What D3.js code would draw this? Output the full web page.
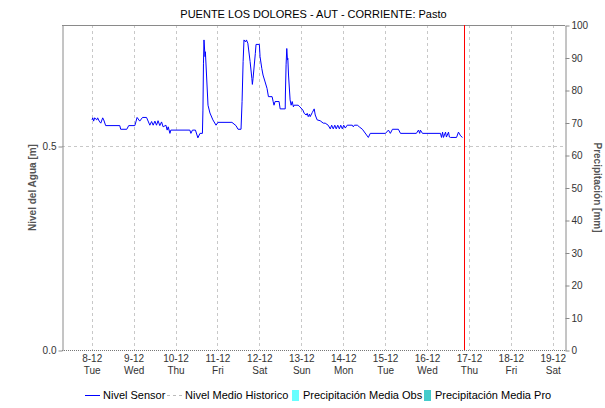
<!DOCTYPE html>
<html>
<head>
<meta charset="utf-8">
<script src="https://cdn.jsdelivr.net/npm/d3@7"></script>
<style>
  body { margin: 0; background: #fff; }
  svg { display: block; font-family: "Liberation Sans", Arial, sans-serif; }
</style>
</head>
<body>
<svg id="chart" width="605" height="408"></svg>
<script>
// Station and series names
const chartTitle = "PUENTE LOS DOLORES - AUT - CORRIENTE: Pasto";
const leftTitle = "Nivel del Agua [m]";
const rightTitle = "Precipitación [mm]";
const legendLabels = ["Nivel Sensor", "Nivel Medio Historico", "Precipitación Media Obs", "Precipitación Media Pro"];

// Daily ticks on the time axis
const dayTicks = ["2020-12-08", "2020-12-09", "2020-12-10", "2020-12-11", "2020-12-12", "2020-12-13",
                  "2020-12-14", "2020-12-15", "2020-12-16", "2020-12-17", "2020-12-18", "2020-12-19"];
const levelTicks = [0, 0.5];
const precipTicks = [0, 10, 20, 30, 40, 50, 60, 70, 80, 90, 100];

// Sensor water level: hours after 08-12 00:00, level in metres
const levelHours = [0.2, 0.6, 1.1, 1.7, 2.9, 3.4, 4.3, 5.2, 6.3, 6.9, 8.0, 16.1, 16.6, 20.1, 21.2, 24.7, 25.3,
  26.0, 27.5, 29.1, 31.4, 33.3, 34.3, 35.2, 36.2, 37.1, 38.0, 39.0, 40.0, 40.9, 42.5, 43.2, 43.8, 44.8, 45.3,
  56.2, 56.8, 57.7, 59.4, 60.8, 62.0, 63.4, 63.7, 64.0, 64.3, 64.9, 65.1, 66.6, 67.7, 69.4, 71.2, 72.3,
  80.3, 82.6, 83.8, 85.5, 86.1, 86.7, 87.2, 88.1, 88.6, 89.4, 90.7, 91.7, 92.0, 92.4, 93.7, 94.1, 96.0,
  96.4, 97.4, 98.1, 99.3, 100.4, 101.2, 103.3, 103.9, 104.4, 105.0, 107.3, 107.9, 110.8, 110.9, 111.3,
  111.7, 112.1, 112.3, 112.7, 113.6, 114.2, 114.8, 115.5, 115.9, 118.2, 119.2, 120.9, 121.7, 122.8, 123.4,
  124.0, 124.7, 125.1, 126.3, 127.4, 128.0, 129.1, 130.8, 132.6, 133.7, 135.4, 136.6, 137.4, 138.3, 139.2,
  140.0, 140.9, 141.8, 142.6, 143.5, 144.3, 145.2, 146.3, 149.2, 149.8, 150.4, 152.1, 153.2, 155.0, 158.4,
  159.5, 168.2, 169.9, 171.0, 172.2, 175.6, 176.8, 185.9, 187.1, 187.8, 188.2, 189.4, 199.7, 200.3, 200.9,
  201.4, 202.6, 203.1, 204.3, 204.8, 205.4, 208.9, 210.0, 211.2, 212.3];
const levelValues = [0.564, 0.569, 0.561, 0.569, 0.564, 0.569, 0.561, 0.556, 0.569, 0.564, 0.550, 0.550, 0.541, 0.541, 0.550, 0.550, 0.559,
  0.570, 0.561, 0.570, 0.570, 0.551, 0.560, 0.551, 0.561, 0.551, 0.562, 0.550, 0.559, 0.547, 0.551, 0.539, 0.547, 0.531, 0.539,
  0.539, 0.531, 0.539, 0.539, 0.520, 0.531, 0.531, 0.588, 0.703, 0.760, 0.719, 0.731, 0.600, 0.581, 0.564, 0.551, 0.558,
  0.558, 0.550, 0.541, 0.541, 0.609, 0.707, 0.760, 0.755, 0.760, 0.752, 0.707, 0.666, 0.651, 0.666, 0.727, 0.749, 0.749,
  0.719, 0.690, 0.674, 0.657, 0.641, 0.621, 0.621, 0.609, 0.600, 0.609, 0.609, 0.591, 0.591, 0.625, 0.699,
  0.739, 0.711, 0.715, 0.674, 0.613, 0.600, 0.609, 0.596, 0.600, 0.600, 0.596, 0.588, 0.580, 0.576, 0.580,
  0.572, 0.578, 0.572, 0.582, 0.591, 0.576, 0.564, 0.562, 0.556, 0.556, 0.551, 0.542, 0.551, 0.542, 0.551,
  0.542, 0.551, 0.542, 0.551, 0.542, 0.551, 0.544, 0.551, 0.551, 0.547, 0.551, 0.551, 0.547, 0.541, 0.521,
  0.531, 0.531, 0.539, 0.531, 0.541, 0.541, 0.531, 0.531, 0.539, 0.531, 0.539, 0.531, 0.531, 0.521, 0.534,
  0.521, 0.534, 0.522, 0.534, 0.522, 0.521, 0.521, 0.534, 0.525, 0.521];

// Precipitation series (no rainfall recorded in this window)
const precipObsDays = [];
const precipObsValues = [];
const precipProDays = [];
const precipProValues = [];

// Current time marker and visible time window
const nowMark = new Date(2020, 11, 16, 21, 10);
const timeStart = new Date(2020, 11, 7, 7, 0);
const timeEnd = new Date(2020, 11, 19, 7, 0);
const levelMax = 0.7966;

const parseDay = d3.timeParse("%Y-%m-%d");
const base = new Date(2020, 11, 8, 0, 0);
const levelData = levelHours.map((h, i) => ({ t: d3.timeMinute.offset(base, Math.round(h * 60)), v: levelValues[i] }));
const days = dayTicks.map(parseDay);

const svg = d3.select("#chart");
const L = 62, R = 565, T = 25, B = 350;

const x = d3.scaleTime().domain([timeStart, timeEnd]).range([L, R]);
const yL = d3.scaleLinear().domain([0, levelMax]).range([B, T]);
const yR = d3.scaleLinear().domain([0, 100]).range([B, T]);

const axisColor = "#8a8a8a";
const gridColor = "#c8c8c8";

// Grid
svg.append("g").selectAll("line.vg").data(days).join("line")
  .attr("x1", d => Math.round(x(d)) + 0.5).attr("x2", d => Math.round(x(d)) + 0.5)
  .attr("y1", T).attr("y2", B)
  .attr("stroke", gridColor).attr("stroke-dasharray", "3,3");
svg.append("g").selectAll("line.hg").data(levelTicks.filter(d => d > 0)).join("line")
  .attr("x1", L).attr("x2", R)
  .attr("y1", d => Math.round(yL(d)) + 0.5).attr("y2", d => Math.round(yL(d)) + 0.5)
  .attr("stroke", gridColor).attr("stroke-dasharray", "3,3");

// Precipitation bars (right axis)
const barW = 20;
svg.append("g").selectAll("rect").data(precipObsDays.map((d, i) => ({ d: parseDay(d), v: precipObsValues[i] }))).join("rect")
  .attr("x", d => x(d.d) - barW / 2).attr("width", barW / 2)
  .attr("y", d => yR(d.v)).attr("height", d => B - yR(d.v)).attr("fill", "#66ffff");
svg.append("g").selectAll("rect").data(precipProDays.map((d, i) => ({ d: parseDay(d), v: precipProValues[i] }))).join("rect")
  .attr("x", d => x(d.d)).attr("width", barW / 2)
  .attr("y", d => yR(d.v)).attr("height", d => B - yR(d.v)).attr("fill", "#44cccc");

// Frame: top border, bottom dotted baseline
svg.append("line").attr("x1", L).attr("x2", R).attr("y1", T + 0.5).attr("y2", T + 0.5).attr("stroke", axisColor);
svg.append("line").attr("x1", L).attr("x2", R).attr("y1", B + 0.5).attr("y2", B + 0.5)
  .attr("stroke", "#777").attr("stroke-dasharray", "1,1");

// Left axis
const gL = svg.append("g").attr("transform", `translate(${L + 0.5},0.5)`)
  .call(d3.axisLeft(yL).tickValues(levelTicks).tickFormat(d3.format(".1f")).tickSize(4).tickSizeOuter(0));
// Right axis
const gR = svg.append("g").attr("transform", `translate(${R + 0.5},0.5)`)
  .call(d3.axisRight(yR).tickValues(precipTicks).tickSize(4).tickSizeOuter(0));
[gL, gR].forEach(g => {
  g.select(".domain").attr("stroke", axisColor);
  g.selectAll(".tick line").attr("stroke", axisColor);
  g.selectAll(".tick text").attr("fill", "#333").style("font-size", "10px");
});
gL.selectAll(".tick text").attr("x", -6);
gR.selectAll(".tick text").attr("x", 6);

// Bottom axis with two-line labels
const gX = svg.append("g").attr("transform", `translate(0,${B})`)
  .call(d3.axisBottom(x).tickValues(days).tickSize(0).tickFormat(""));
gX.select(".domain").remove();
const fmtDay = d3.timeFormat("%-d-%m");
const fmtWk = d3.timeFormat("%a");
gX.selectAll(".tick").each(function (d) {
  const t = d3.select(this).select("text").attr("y", 0).attr("dy", null)
    .attr("fill", "#333").style("font-size", "10px");
  t.text(null);
  t.append("tspan").attr("x", 0).attr("y", 12).text(fmtDay(d));
  t.append("tspan").attr("x", 0).attr("y", 24).text(fmtWk(d));
});

// Sensor level line
svg.append("path").datum(levelData)
  .attr("fill", "none").attr("stroke", "#0000ff").attr("stroke-width", 1)
  .attr("d", d3.line().x(d => x(d.t)).y(d => yL(d.v)));

// Current time marker
svg.append("line").attr("x1", Math.round(x(nowMark)) + 0.5).attr("x2", Math.round(x(nowMark)) + 0.5)
  .attr("y1", T).attr("y2", B).attr("stroke", "#ff0000");

// Titles
svg.append("text").attr("x", (L + R) / 2).attr("y", 18).attr("text-anchor", "middle")
  .style("font-size", "11px").attr("fill", "#000").text(chartTitle);
svg.append("text").attr("transform", `translate(36,${(T + B) / 2}) rotate(-90)`).attr("text-anchor", "middle")
  .style("font-size", "10px").style("font-weight", "bold").attr("fill", "#555").text(leftTitle);
svg.append("text").attr("transform", `translate(594,${(T + B) / 2}) rotate(90)`).attr("text-anchor", "middle")
  .style("font-size", "10px").style("font-weight", "bold").attr("fill", "#555").text(rightTitle);

// Legend
const lg = svg.append("g").style("font-size", "11px").attr("fill", "#000");
const ly = 395;
lg.append("line").attr("x1", 85).attr("x2", 100).attr("y1", ly + 0.5).attr("y2", ly + 0.5).attr("stroke", "#0000ff");
lg.append("text").attr("x", 103).attr("y", ly + 4).text(legendLabels[0]);
lg.append("line").attr("x1", 167).attr("x2", 182).attr("y1", ly + 0.5).attr("y2", ly + 0.5)
  .attr("stroke", "#bbb").attr("stroke-dasharray", "3,3");
lg.append("text").attr("x", 185).attr("y", ly + 4).text(legendLabels[1]);
lg.append("rect").attr("x", 292).attr("y", ly - 5).attr("width", 7).attr("height", 11).attr("fill", "#66ffff");
lg.append("text").attr("x", 303).attr("y", ly + 4).text(legendLabels[2]);
lg.append("rect").attr("x", 424).attr("y", ly - 5).attr("width", 7).attr("height", 11).attr("fill", "#44cccc");
lg.append("text").attr("x", 435).attr("y", ly + 4).text(legendLabels[3]);
</script>
</body>
</html>
